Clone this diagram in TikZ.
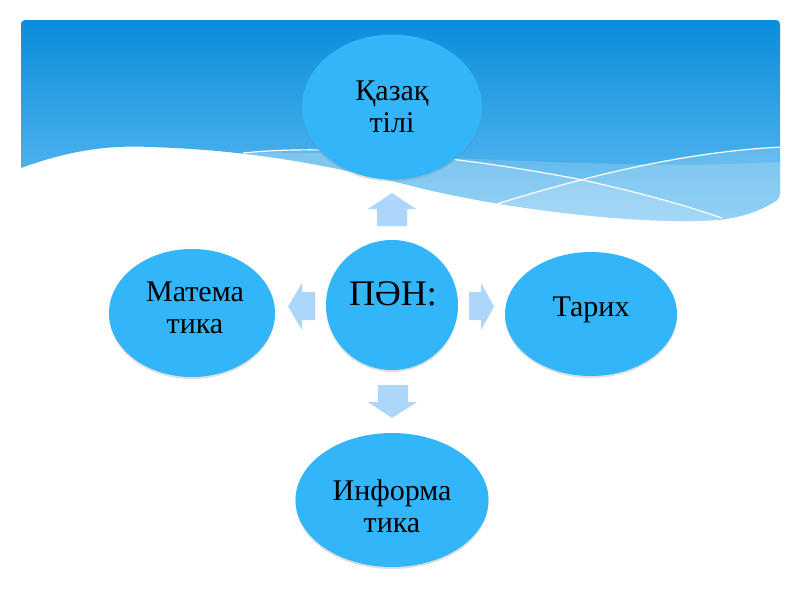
\documentclass[tikz,border=0pt]{standalone}
\usepackage{fontspec}
\setmainfont{Liberation Serif}
\usetikzlibrary{shapes.geometric,shadows}
\definecolor{circ}{RGB}{50,181,249}
\definecolor{arr}{RGB}{172,214,250}
\definecolor{topblue}{RGB}{10,141,220}
\definecolor{botblue}{RGB}{100,190,242}
\begin{document}
\begin{tikzpicture}[x=1pt,y=-1pt,
  bubble/.style={ellipse, fill=circ, inner sep=0pt,
    drop shadow={opacity=0.25, shadow xshift=0pt, shadow yshift=-2pt}},
  lbl/.style={anchor=base, inner sep=0pt, align=center, text=black,
    font=\fontsize{30}{32}\selectfont},
  blockarrow/.style={fill=arr},
  waveline/.style={draw=white, line width=1.2pt},
  band/.style={fill=white, fill opacity=0.17}]
\useasboundingbox (0,0) rectangle (800,600);
\fill[white] (0,0) rectangle (800,600);

% header panel
\def\panelpath{(21,168) {[rounded corners=4pt] -- (21,20) -- (780,20) -- (780,198)}
  .. controls (770,205) and (750,217) .. (717,220)
  .. controls (650,225) and (520,212) .. (420,188)
  .. controls (330,165) and (250,150) .. (150,147)
  .. controls (110,145) and (70,150) .. (21,168) -- cycle}
\path[top color=topblue, bottom color=botblue] \panelpath;
\begin{scope}
  \clip \panelpath;
  \fill[band] (240,153) .. controls (400,150) and (600,172) .. (780,162) -- (780,240) -- (240,240) -- cycle;
  \fill[band] (243,153) .. controls (340,143) and (470,158) .. (583,180)
     .. controls (650,195) and (690,207) .. (717,216) -- (717,240) -- (243,240) -- cycle;
  \fill[band] (493,205) .. controls (580,178) and (680,152) .. (780,147) -- (780,240) -- (493,240) -- cycle;
  \draw[waveline] (243,153) .. controls (340,143) and (470,158) .. (583,180)
     .. controls (650,195) and (690,207) .. (722,218);
  \draw[waveline] (490,206) .. controls (580,178) and (680,152) .. (782,147);
\end{scope}

% block arrows
\fill[blockarrow] (392,193) -- (416,209) -- (407,209) -- (407,226) -- (377,226) -- (377,209) -- (368,209) -- cycle;
\fill[blockarrow] (378,385) -- (408,385) -- (408,402) -- (417,402) -- (392,418) -- (368,402) -- (378,402) -- cycle;
\fill[blockarrow] (288,306.5) -- (302,283) -- (302,292) -- (315,292) -- (315,320) -- (302,320) -- (302,330) -- cycle;
\fill[blockarrow] (469,292) -- (481,292) -- (481,283) -- (494,306.5) -- (481,330) -- (481,320) -- (469,320) -- cycle;

% circles
\node[bubble, minimum width=180pt, minimum height=145pt] (kaz) at (392,107) {};
\node[bubble, minimum width=132pt, minimum height=130pt] (pan) at (392,305) {};
\node[bubble, minimum width=166pt, minimum height=128pt] (mat) at (192,313) {};
\node[bubble, minimum width=172pt, minimum height=124pt] (tar) at (591,314) {};
\node[bubble, minimum width=193pt, minimum height=134pt] (inf) at (392,500) {};

% texts (base anchor = baseline of last line)
\node[lbl] (kazT) at (392,132) {Қазақ\\тілі};
\node[lbl, font=\fontsize{36}{38}\selectfont] (panT) at (393,305) {ПӘН:};
\node[lbl] (matT) at (195,333) {Матема\\тика};
\node[lbl] (tarT) at (591,316) {Тарих};
\node[lbl] (infT) at (392,532) {Информа\\тика};
\end{tikzpicture}
\end{document}
